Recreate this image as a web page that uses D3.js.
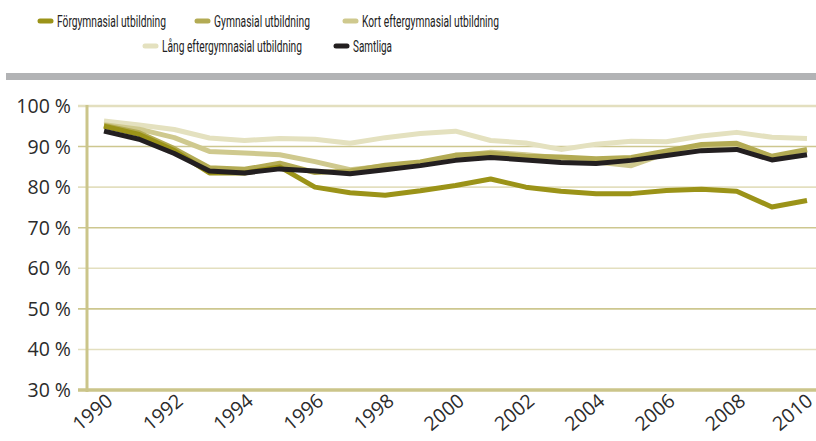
<!DOCTYPE html>
<html>
<head>
<meta charset="utf-8">
<script src="https://cdn.jsdelivr.net/npm/d3@7"></script>
<style>
  body { margin: 0; background: #fff; }
  svg { display: block; }
</style>
</head>
<body>
<div id="canvas"></div>
<script>
"use strict"

/* Drawing dimensions */
let svgWidth = 816;
let svgHeight = 441;
let plotLeft = 87;
let plotRight = 816;
let plotTop = 106;
let plotBottom = 390;

/* Data */
let years = d3.range(1990, 2011);
let forgymnasial = [95.0, 93.0, 89.0, 83.5, 83.5, 85.0, 80.0, 78.6, 78.0, 79.1, 80.4, 82.0, 80.0, 79.0, 78.4, 78.4, 79.2, 79.5, 79.0, 75.1, 76.7];
let gymnasial = [95.2, 93.4, 89.5, 84.8, 84.4, 85.9, 83.6, 84.0, 85.4, 86.2, 87.9, 88.3, 87.6, 87.4, 87.0, 87.3, 88.9, 90.5, 90.8, 87.6, 89.3];
let kortEfter = [95.4, 94.3, 92.2, 88.8, 88.4, 88.0, 86.3, 84.3, 85.2, 86.0, 87.6, 88.6, 88.0, 87.2, 86.2, 85.3, 88.4, 90.0, 90.5, 87.5, 89.0];
let langEfter = [96.3, 95.3, 94.2, 92.1, 91.5, 92.0, 91.8, 90.8, 92.2, 93.2, 93.8, 91.5, 90.9, 89.3, 90.6, 91.3, 91.2, 92.6, 93.5, 92.3, 92.0];
let samtliga = [93.8, 91.8, 88.3, 84.0, 83.5, 84.5, 84.0, 83.3, 84.3, 85.3, 86.6, 87.3, 86.7, 86.1, 85.8, 86.6, 87.8, 89.0, 89.3, 86.7, 88.0];

let seriesNames = ["Förgymnasial utbildning", "Gymnasial utbildning", "Kort eftergymnasial utbildning", "Lång eftergymnasial utbildning", "Samtliga"];
let seriesColors = ["#9b9318", "#b3ab54", "#cfc98e", "#e4e1bf", "#231f20"];
let seriesValues = [forgymnasial, gymnasial, kortEfter, langEfter, samtliga];

let yTicks = [30, 40, 50, 60, 70, 80, 90, 100];
let xTicks = [1990, 1992, 1994, 1996, 1998, 2000, 2002, 2004, 2006, 2008, 2010];

let svg = d3.select("#canvas")
    .append("svg")
    .attr("width", svgWidth)
    .attr("height", svgHeight);

/* Scales */
let xScale = d3.scaleLinear()
    .domain([1990, 2010])
    .range([104, 807]);

let yScale = d3.scaleLinear()
    .domain([30, 100])
    .range([plotBottom, plotTop]);

/* Grey separator bar under the legend */
svg.append("rect")
    .attr("x", 6)
    .attr("y", 73)
    .attr("width", svgWidth - 6)
    .attr("height", 7)
    .attr("fill", "#b2b3b5");

/* Horizontal gridlines, alternating shades */
svg.selectAll(".grid")
    .data(yTicks.filter(d => d > 30))
    .join("line")
    .attr("class", "grid")
    .attr("x1", plotLeft - 9)
    .attr("x2", plotRight)
    .attr("y1", d => yScale(d))
    .attr("y2", d => yScale(d))
    .attr("stroke", d => (d / 10) % 2 === 1 ? "#cdc78f" : "#e3dfbf")
    .attr("stroke-width", d => d === 100 ? 2.5 : 1.6);

/* Y tick labels */
svg.selectAll(".ylabel")
    .data(yTicks)
    .join("text")
    .attr("class", "ylabel")
    .attr("x", 71)
    .attr("y", d => yScale(d))
    .attr("dy", "0.36em")
    .attr("text-anchor", "end")
    .style("font-family", "'Open Sans', sans-serif")
    .style("font-size", "19.5px")
    .style("fill", "#2b2b2b")
    .text(d => d + " %");

/* Axis lines */
svg.append("line")
    .attr("x1", plotLeft)
    .attr("x2", plotLeft)
    .attr("y1", plotTop - 1)
    .attr("y2", plotBottom + 2)
    .attr("stroke", "#cbc58a")
    .attr("stroke-width", 3);

svg.append("line")
    .attr("x1", plotLeft - 9)
    .attr("x2", plotRight)
    .attr("y1", plotBottom)
    .attr("y2", plotBottom)
    .attr("stroke", "#cbc58a")
    .attr("stroke-width", 3.5);

/* X tick labels, rotated */
svg.selectAll(".xlabel")
    .data(xTicks)
    .join("text")
    .attr("class", "xlabel")
    .attr("text-anchor", "end")
    .attr("transform", d => "translate(" + Math.min(xScale(d) + 10, 814) + "," + 403 + ") rotate(-40)")
    .style("font-family", "'Open Sans', sans-serif")
    .style("font-size", "19.5px")
    .style("fill", "#2b2b2b")
    .text(d => d);

/* Lines (lightest first, Samtliga on top) */
let line = d3.line()
    .x((d, i) => xScale(years[i]))
    .y(d => yScale(d));

let drawOrder = [3, 2, 1, 0, 4];
drawOrder.forEach(function (k) {
    svg.append("path")
        .datum(seriesValues[k])
        .attr("fill", "none")
        .attr("stroke", seriesColors[k])
        .attr("stroke-width", 5)
        .attr("stroke-linejoin", "round")
        .attr("d", line);
});

/* Legend (condensed look via textLength) */
let legendItems = [
    { i: 0, x: 38, y: 21, w: 109 },
    { i: 1, x: 195, y: 21, w: 96 },
    { i: 2, x: 343, y: 21, w: 137 },
    { i: 3, x: 143, y: 46, w: 140 },
    { i: 4, x: 334, y: 46, w: 39 }
];

let legend = svg.selectAll(".legend")
    .data(legendItems)
    .join("g")
    .attr("class", "legend")
    .attr("transform", d => "translate(" + d.x + "," + d.y + ")");

legend.append("line")
    .attr("x1", 2)
    .attr("x2", 13)
    .attr("y1", 0)
    .attr("y2", 0)
    .attr("stroke", d => seriesColors[d.i])
    .attr("stroke-width", 5)
    .attr("stroke-linecap", "round");

legend.append("text")
    .attr("x", 19)
    .attr("y", 0)
    .attr("dy", "0.35em")
    .attr("textLength", d => d.w)
    .attr("lengthAdjust", "spacingAndGlyphs")
    .style("font-family", "Roboto, sans-serif")
    .style("font-size", "17px")
    .style("fill", "#222")
    .text(d => seriesNames[d.i]);
</script>
</body>
</html>
